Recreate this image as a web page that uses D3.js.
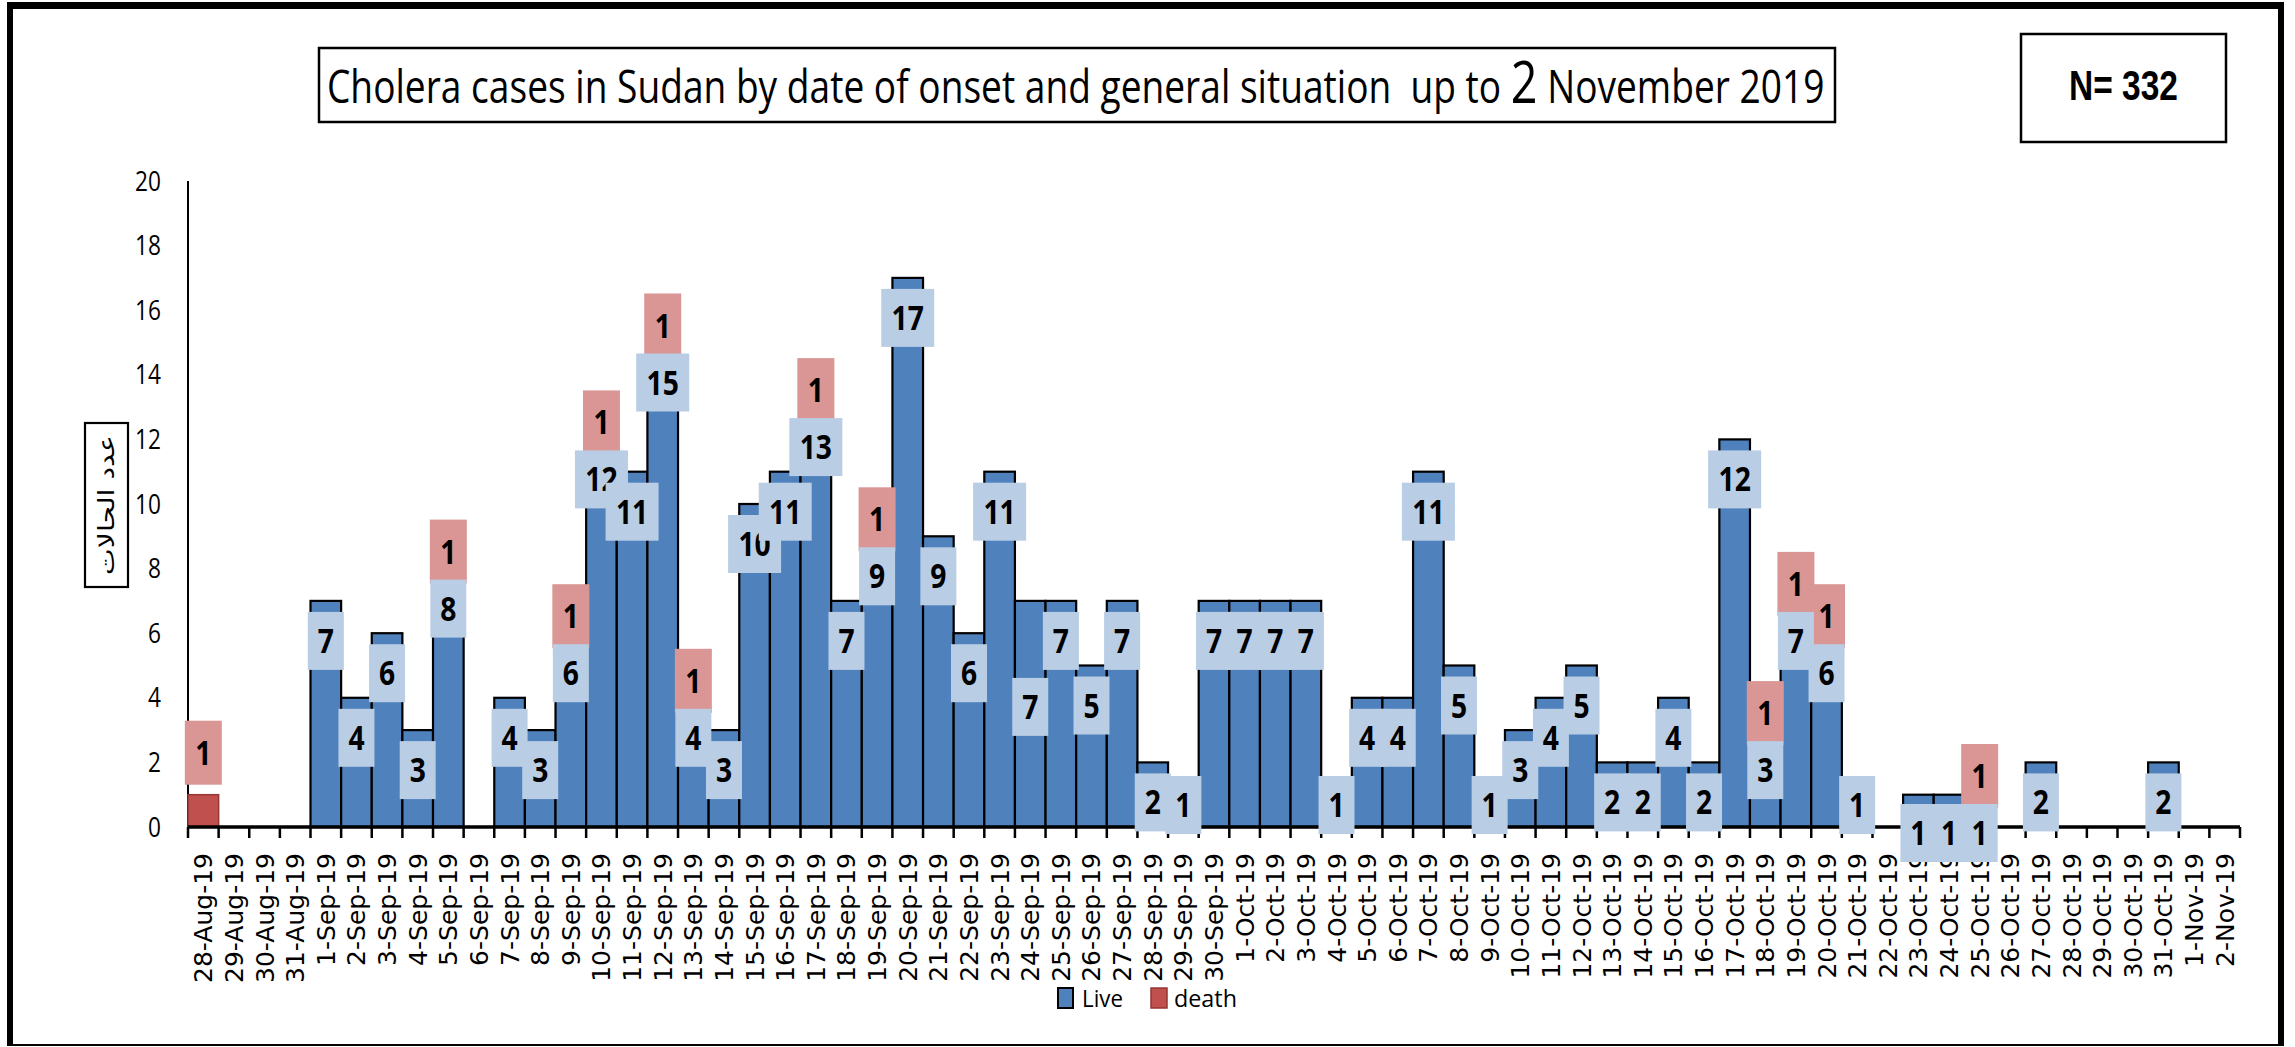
<!DOCTYPE html>
<html>
<head>
<meta charset="utf-8">
<script src="https://cdn.jsdelivr.net/npm/d3@7"></script>
<style>
  html, body { margin: 0; padding: 0; background: #ffffff; }
  svg { display: block; }
</style>
</head>
<body>
<script>
// ---------------- DATA ----------------
const dates = [
  "28-Aug-19","29-Aug-19","30-Aug-19","31-Aug-19",
  "1-Sep-19","2-Sep-19","3-Sep-19","4-Sep-19","5-Sep-19","6-Sep-19","7-Sep-19","8-Sep-19","9-Sep-19","10-Sep-19",
  "11-Sep-19","12-Sep-19","13-Sep-19","14-Sep-19","15-Sep-19","16-Sep-19","17-Sep-19","18-Sep-19","19-Sep-19","20-Sep-19",
  "21-Sep-19","22-Sep-19","23-Sep-19","24-Sep-19","25-Sep-19","26-Sep-19","27-Sep-19","28-Sep-19","29-Sep-19","30-Sep-19",
  "1-Oct-19","2-Oct-19","3-Oct-19","4-Oct-19","5-Oct-19","6-Oct-19","7-Oct-19","8-Oct-19","9-Oct-19","10-Oct-19",
  "11-Oct-19","12-Oct-19","13-Oct-19","14-Oct-19","15-Oct-19","16-Oct-19","17-Oct-19","18-Oct-19","19-Oct-19","20-Oct-19",
  "21-Oct-19","22-Oct-19","23-Oct-19","24-Oct-19","25-Oct-19","26-Oct-19","27-Oct-19","28-Oct-19","29-Oct-19","30-Oct-19",
  "31-Oct-19","1-Nov-19","2-Nov-19"
];
const live = [
  0,0,0,0,
  7,4,6,3,8,0,4,3,6,12,
  11,15,4,3,10,11,13,7,9,17,
  9,6,11,7,7,5,7,2,1,7,
  7,7,7,1,4,4,11,5,1,3,
  4,5,2,2,4,2,12,3,7,6,
  1,0,1,1,1,0,2,0,0,0,
  2,0,0
];
const death = [
  1,0,0,0,
  0,0,0,0,1,0,0,0,1,1,
  0,1,1,0,0,0,1,0,1,0,
  0,0,0,0,0,0,0,0,0,0,
  0,0,0,0,0,0,0,0,0,0,
  0,0,0,0,0,0,0,1,1,1,
  0,0,0,0,1,0,0,0,0,0,
  0,0,0
];
const seriesNames = ["Live", "death"];
const yTicks = [0, 2, 4, 6, 8, 10, 12, 14, 16, 18, 20];
const titleStart = "Cholera cases in Sudan by date of onset and general situation\u00A0\u00A0up to ";
const titleBig = "2";
const titleEnd = " November 2019";
const nLabel = "N= 332";
const yTitle = "عدد الحالات";

// ---------------- LAYOUT / STYLE ----------------
const W = 2295, H = 1047;
const colLive = "#4F81BD", colDeath = "#C0504D";
const boxLive = "#B9CDE5", boxDeath = "#D99694";
// manual nudges of a few live data labels (pixels down), as in the original chart
const labelNudge = { "24-Sep-19": 66, "23-Oct-19": 28, "24-Oct-19": 28, "25-Oct-19": 28 };

const svg = d3.select("body").append("svg").attr("width", W).attr("height", H);

const x = d3.scaleBand().domain(dates).range([188, 2240]).padding(0);
const y = d3.scaleLinear().domain([0, 20]).range([827, 181]);

const rows = dates.map((d, i) => ({ date: d, Live: live[i], death: death[i] }));
const stack = d3.stack().keys(seriesNames)(rows);

// helper: condensed text
function ctext(parent, str, opt) {
  const t = parent.append("text")
    .attr("x", 0).attr("y", 0)
    .attr("font-family", opt.family || "Open Sans")
    .attr("font-size", opt.size)
    .attr("font-weight", opt.weight || 400)
    .attr("text-anchor", opt.anchor || "start")
    .attr("fill", opt.fill || "#000")
    .text(str);
  let sx = opt.sx || 1;
  if (opt.width) {
    const w = t.node().getComputedTextLength();
    sx = opt.width / w;
  }
  t.attr("transform", `translate(${opt.x},${opt.y}) scale(${sx},1)`);
  return t;
}

// ---------------- FRAME ----------------
svg.append("rect").attr("x", 7).attr("y", 2).attr("width", 2277).attr("height", 7).attr("fill", "#000");
svg.append("rect").attr("x", 7).attr("y", 2).attr("width", 6).attr("height", 1044).attr("fill", "#000");
svg.append("rect").attr("x", 2278).attr("y", 2).attr("width", 6).attr("height", 1044).attr("fill", "#000");
svg.append("rect").attr("x", 7).attr("y", 1044).attr("width", 2277).attr("height", 2).attr("fill", "#000");

// ---------------- TITLE ----------------
svg.append("rect").attr("x", 319).attr("y", 48).attr("width", 1516).attr("height", 74)
  .attr("fill", "#fff").attr("stroke", "#000").attr("stroke-width", 2.5);
{
  const t = svg.append("text").attr("font-family", "Open Sans").attr("font-size", 46).attr("fill", "#000");
  t.append("tspan").text(titleStart);
  t.append("tspan").attr("font-size", 58).text(titleBig);
  t.append("tspan").text(titleEnd);
  const w = t.node().getComputedTextLength();
  t.attr("transform", `translate(327,103) scale(${1498 / w},1)`);
}

// N box
svg.append("rect").attr("x", 2021).attr("y", 34).attr("width", 205).attr("height", 108)
  .attr("fill", "#fff").attr("stroke", "#000").attr("stroke-width", 2.5);
ctext(svg, nLabel, { x: 2069, y: 100, size: 42, weight: 700, family: "Liberation Sans", width: 109 });

// ---------------- Y AXIS ----------------
svg.append("line").attr("x1", 188).attr("x2", 188).attr("y1", y(20)).attr("y2", y(0))
  .attr("stroke", "#000").attr("stroke-width", 2);
yTicks.forEach(v => {
  ctext(svg, String(v), { x: 161, y: y(v) + 9.5, size: 27, anchor: "end", sx: 0.84 });
});
// y title box
svg.append("rect").attr("x", 85).attr("y", 423).attr("width", 43).attr("height", 164)
  .attr("fill", "#fff").attr("stroke", "#000").attr("stroke-width", 2.2);
{
  const t = svg.append("text").attr("font-family", "DejaVu Sans").attr("font-size", 22)
    .attr("text-anchor", "middle").attr("fill", "#000").text(yTitle);
  const w = t.node().getComputedTextLength();
  t.attr("transform", `translate(114,505) rotate(-90) scale(${140 / w},1)`);
}

// ---------------- BARS ----------------
const gBars = svg.append("g");
gBars.selectAll("g.series").data(stack).join("g")
  .attr("class", "series")
  .each(function (s) {
    const isLive = s.key === "Live";
    d3.select(this).selectAll("rect")
      .data(s.filter(d => d[1] - d[0] > 0))
      .join("rect")
      .attr("x", d => x(d.data.date))
      .attr("width", x.bandwidth())
      .attr("y", d => y(d[1]))
      .attr("height", d => y(d[0]) - y(d[1]))
      .attr("fill", isLive ? colLive : colDeath)
      .attr("stroke", isLive ? "#000" : "#943634")
      .attr("stroke-width", isLive ? 2.2 : 1.5);
  });

// ---------------- X AXIS ----------------
svg.append("line").attr("x1", 188).attr("x2", 2240).attr("y1", y(0)).attr("y2", y(0))
  .attr("stroke", "#000").attr("stroke-width", 3.5);
const edges = dates.map(d => x(d)).concat([x(dates[dates.length - 1]) + x.bandwidth()]);
svg.append("g").selectAll("line").data(edges).join("line")
  .attr("x1", d => d).attr("x2", d => d)
  .attr("y1", y(0)).attr("y2", y(0) + 11)
  .attr("stroke", "#000").attr("stroke-width", 2.5);
svg.append("g").selectAll("text").data(dates).join("text")
  .attr("font-family", "DejaVu Sans").attr("font-size", 25)
  .attr("text-anchor", "end").attr("dy", "0.36em").attr("fill", "#000")
  .attr("transform", d => `translate(${x(d) + x.bandwidth() / 2},853) rotate(-90)`)
  .text(d => d);

// ---------------- DATA LABELS ----------------
const gLab = svg.append("g");
const LH = 58, DH = 64;
const labelInfo = rows.map(r => {
  const cx = x(r.date) + x.bandwidth() / 2;
  let liveTop = null;
  if (r.Live > 0) {
    liveTop = Math.min(y(r.Live) + 11, 776) + (labelNudge[r.date] || 0);
  }
  let deathTop = null;
  if (r.death > 0) {
    const bottom = liveTop !== null ? liveTop + 4 : y(r.Live + r.death) - 10;
    deathTop = bottom - DH;
  }
  return { r, cx, liveTop, deathTop };
});
// death labels
labelInfo.filter(o => o.deathTop !== null).forEach(o => {
  gLab.append("rect").attr("x", o.cx - 18.5).attr("y", o.deathTop).attr("width", 37).attr("height", DH)
    .attr("fill", boxDeath);
  ctext(gLab, String(o.r.death), { x: o.cx, y: o.deathTop + DH / 2 + 12, size: 34, weight: 700, anchor: "middle", sx: 0.83 });
});
// live labels
labelInfo.filter(o => o.liveTop !== null).forEach(o => {
  const s = String(o.r.Live);
  const w = s.length > 1 ? 53 : 36;
  gLab.append("rect").attr("x", o.cx - w / 2).attr("y", o.liveTop).attr("width", w).attr("height", LH)
    .attr("fill", boxLive);
  ctext(gLab, s, { x: o.cx, y: o.liveTop + LH / 2 + 12, size: 34, weight: 700, anchor: "middle", sx: 0.83 });
});

// ---------------- LEGEND ----------------
svg.append("rect").attr("x", 1058).attr("y", 988).attr("width", 15).attr("height", 20)
  .attr("fill", colLive).attr("stroke", "#000").attr("stroke-width", 2);
ctext(svg, seriesNames[0], { x: 1082, y: 1007, size: 24, width: 41 });
svg.append("rect").attr("x", 1151).attr("y", 988).attr("width", 16).attr("height", 20)
  .attr("fill", colDeath).attr("stroke", "#943634").attr("stroke-width", 1.5);
ctext(svg, seriesNames[1], { x: 1174, y: 1007, size: 24, width: 63 });
</script>
</body>
</html>
